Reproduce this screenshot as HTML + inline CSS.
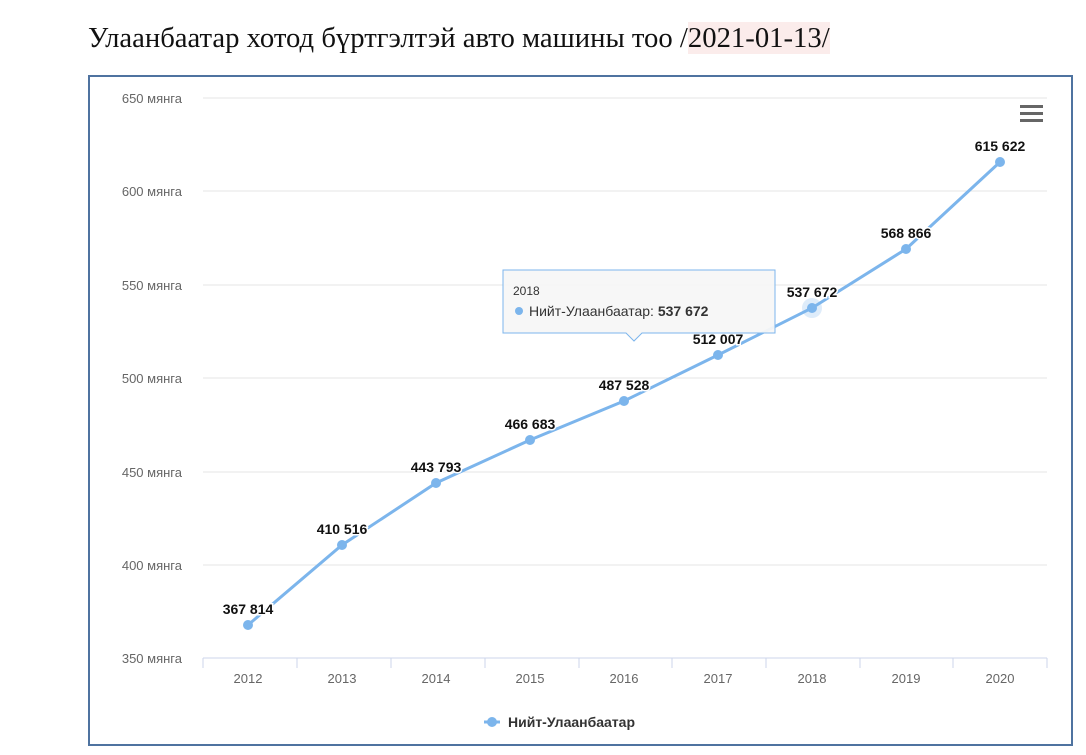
<!DOCTYPE html>
<html><head><meta charset="utf-8"><style>
body{margin:0;background:#fff;width:1086px;height:755px;overflow:hidden;position:relative;font-family:"Liberation Sans",sans-serif}
.t{position:absolute;left:88px;top:22px;font-family:"Liberation Serif",serif;font-size:28.7px;color:#111;white-space:nowrap}
.t span{background:#fbeceb}
</style></head><body>
<div class="t">Улаанбаатар хотод бүртгэлтэй авто машины тоо /<span>2021-01-13/</span></div>
<svg width="1086" height="755" style="position:absolute;left:0;top:0" font-family="Liberation Sans, sans-serif">
<rect x="89" y="76" width="983" height="669" fill="#fff" stroke="#4f73a0" stroke-width="2"/>
<g stroke="#e6e6e6" stroke-width="1">
<line x1="203" y1="98" x2="1047" y2="98"/><line x1="203" y1="191" x2="1047" y2="191"/>
<line x1="203" y1="285" x2="1047" y2="285"/><line x1="203" y1="378" x2="1047" y2="378"/>
<line x1="203" y1="472" x2="1047" y2="472"/><line x1="203" y1="565" x2="1047" y2="565"/>
</g>
<line x1="203" y1="658" x2="1047" y2="658" stroke="#ccd6eb"/>
<g stroke="#ccd6eb"><line x1="203" y1="658" x2="203" y2="668"/><line x1="297" y1="658" x2="297" y2="668"/><line x1="391" y1="658" x2="391" y2="668"/><line x1="485" y1="658" x2="485" y2="668"/><line x1="579" y1="658" x2="579" y2="668"/><line x1="672" y1="658" x2="672" y2="668"/><line x1="766" y1="658" x2="766" y2="668"/><line x1="860" y1="658" x2="860" y2="668"/><line x1="953" y1="658" x2="953" y2="668"/><line x1="1047" y1="658" x2="1047" y2="668"/></g>
<g font-size="13" fill="#666" text-anchor="end">
<text x="182" y="103">650 мянга</text><text x="182" y="196">600 мянга</text><text x="182" y="290">550 мянга</text><text x="182" y="383">500 мянга</text><text x="182" y="477">450 мянга</text><text x="182" y="570">400 мянга</text><text x="182" y="663">350 мянга</text>
</g>
<g font-size="13" fill="#666" text-anchor="middle">
<text x="248" y="683">2012</text><text x="342" y="683">2013</text><text x="436" y="683">2014</text><text x="530" y="683">2015</text><text x="624" y="683">2016</text><text x="718" y="683">2017</text><text x="812" y="683">2018</text><text x="906" y="683">2019</text><text x="1000" y="683">2020</text>
</g>
<circle cx="812" cy="308" r="10" fill="#7cb5ec" opacity="0.25"/>
<polyline fill="none" stroke="#7cb5ec" stroke-width="3" points="248,625 342,545 436,483 530,440 624,401 718,355 812,308 906,249 1000,162"/>
<g fill="#7cb5ec"><circle cx="248" cy="625" r="5"/><circle cx="342" cy="545" r="5"/><circle cx="436" cy="483" r="5"/><circle cx="530" cy="440" r="5"/><circle cx="624" cy="401" r="5"/><circle cx="718" cy="355" r="5"/><circle cx="812" cy="308" r="5"/><circle cx="906" cy="249" r="5"/><circle cx="1000" cy="162" r="5"/></g>
<g font-size="14" font-weight="bold" fill="#111" text-anchor="middle" stroke="#fff" stroke-width="3" paint-order="stroke">
<text x="248" y="614">367 814</text><text x="342" y="534">410 516</text><text x="436" y="472">443 793</text><text x="530" y="429">466 683</text><text x="624" y="390">487 528</text><text x="718" y="344">512 007</text><text x="812" y="297">537 672</text><text x="906" y="238">568 866</text><text x="1000" y="151">615 622</text>
</g>
<path d="M503,270 H775 V333 H642 L634,341 L626,333 H503 Z" fill="#f7f7f7" fill-opacity="0.95" stroke="#7cb5ec"/>
<text x="513" y="295" font-size="12" fill="#333">2018</text>
<circle cx="519" cy="311" r="4" fill="#7cb5ec"/>
<text x="529" y="316" font-size="14" fill="#333">Нийт-Улаанбаатар: <tspan font-weight="bold">537 672</tspan></text>
<g fill="#666"><rect x="1020" y="105" width="23" height="3"/><rect x="1020" y="112" width="23" height="3"/><rect x="1020" y="119" width="23" height="3"/></g>
<line x1="484" y1="722" x2="500" y2="722" stroke="#7cb5ec" stroke-width="3"/><circle cx="492" cy="722" r="5" fill="#7cb5ec"/>
<text x="508" y="727" font-size="14" font-weight="bold" fill="#333">Нийт-Улаанбаатар</text>
</svg>
</body></html>
